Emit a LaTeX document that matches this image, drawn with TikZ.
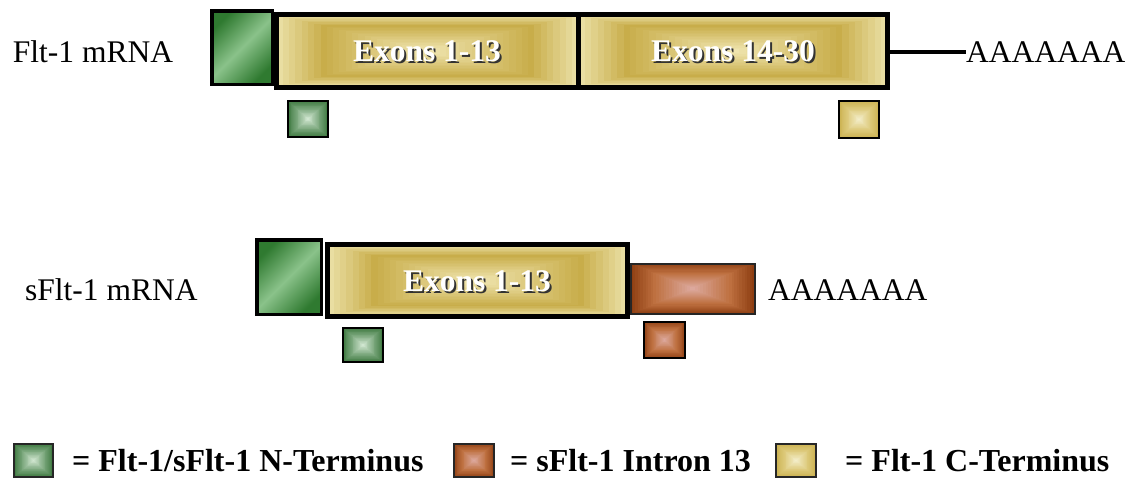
\documentclass[tikz,border=0pt]{standalone}
\usepackage{fontspec}
\setmainfont{Liberation Serif}
\definecolor{goldO}{HTML}{E9DEA2}
\definecolor{goldM}{HTML}{C8AD4A}
\definecolor{goldI}{HTML}{EFE4AE}
\definecolor{gsqO}{HTML}{C9AF4C}
\definecolor{gsqM}{HTML}{DCC878}
\definecolor{gsqI}{HTML}{F3EDC8}
\definecolor{grnO}{HTML}{38743A}
\definecolor{grnM}{HTML}{75A377}
\definecolor{grnI}{HTML}{D0E6D0}
\definecolor{grnDark}{HTML}{2F7A30}
\definecolor{grnLight}{HTML}{8AC28A}
\definecolor{brnO}{HTML}{8E3E12}
\definecolor{brnM}{HTML}{BE7040}
\definecolor{brnI}{HTML}{DCA89C}
\newcommand\ringfill[8]{%
  \foreach \i in {0,...,23}{%
    \pgfmathsetmacro\dx{\i/24*(#3-#1)/2}%
    \pgfmathsetmacro\dy{\i/24*(#4-#2)/2}%
    \ifnum\i<#8\relax
      \pgfmathtruncatemacro\p{100*\i/#8}%
      \colorlet{ringc}{#6!\p!#5}%
    \else
      \pgfmathtruncatemacro\p{100*(\i-#8)/(23-#8)}%
      \colorlet{ringc}{#7!\p!#6}%
    \fi
    \fill[ringc] ({#1+\dx},{#2+\dy}) rectangle ({#3-\dx},{#4-\dy});
  }}
\begin{document}
\begin{tikzpicture}[x=1pt,y=-1pt,
  lbl/.style={font=\fontsize{31.5}{36}\selectfont, inner sep=0pt, text=black, anchor=base west},
  exonlbl/.style={font=\bfseries\fontsize{31.5}{36}\selectfont, inner sep=0pt, text=white, anchor=base},
  exonshadow/.style={font=\bfseries\fontsize{31.5}{36}\selectfont, inner sep=0pt, text=black!80, anchor=base},
  legtxt/.style={font=\bfseries\fontsize{32}{36}\selectfont, inner sep=0pt, anchor=base west},
  exonborder/.style={draw=black, line width=4.5pt},
  bigsqborder/.style={draw=black, line width=3.5pt},
  smallborder/.style={draw=black, line width=2pt},
  thinborder/.style={draw=black!85, line width=1.8pt},
  tail/.style={draw=black, line width=4pt},
  greensq/.style={top color=grnDark, bottom color=grnDark, middle color=grnLight, shading angle=45}
]
\useasboundingbox (0,0) rectangle (1133,479);

% ---------------- Flt-1 mRNA ----------------
\node[lbl] (fltlbl) at (12.7,62.7) {Flt-1 mRNA};
\shade[greensq] (211.75,10.75) rectangle (272.25,84.25);
\draw[bigsqborder] (211.75,10.75) rectangle (272.25,84.25);
\ringfill{276.5}{14.5}{578.5}{87.5}{goldO}{goldM}{goldI}{7}
\ringfill{578.5}{14.5}{887.5}{87.5}{goldO}{goldM}{goldI}{7}
\draw[exonborder] (276.5,14.5) rectangle (887.5,87.5);
\draw[exonborder] (578.5,14.5) -- (578.5,87.5);
\node[exonshadow] (e1s) at (429,63.7) {Exons 1-13};
\node[exonlbl] (e1) at (427,61.7) {Exons 1-13};
\node[exonshadow] (e2s) at (735,63.7) {Exons 14-30};
\node[exonlbl] (e2) at (733,61.7) {Exons 14-30};
\coordinate (tailstart) at (889.5,52);
\node[lbl] (polyA1) at (966,62.7) {AAAAAAA};
\draw[tail] (tailstart) -- (polyA1.west |- tailstart);
% small domain markers
\ringfill{287}{100}{329}{138}{grnO}{grnM}{grnI}{10}
\draw[smallborder] (288,101) rectangle (328,137);
\ringfill{838}{100}{880}{139}{gsqO}{gsqM}{gsqI}{10}
\draw[smallborder] (839,101) rectangle (879,138);

% ---------------- sFlt-1 mRNA ----------------
\node[lbl] (sfltlbl) at (25,300) {sFlt-1 mRNA};
\shade[greensq] (256.75,239.75) rectangle (321.25,314.25);
\draw[bigsqborder] (256.75,239.75) rectangle (321.25,314.25);
\ringfill{327.5}{244.5}{627.5}{316.5}{goldO}{goldM}{goldI}{7}
\draw[exonborder] (327.5,244.5) rectangle (627.5,316.5);
\node[exonshadow] (e3s) at (479,293) {Exons 1-13};
\node[exonlbl] (e3) at (477,291) {Exons 1-13};
\ringfill{630}{263}{755}{314}{brnO}{brnM}{brnI}{9}
\draw[thinborder] (631,264) rectangle (755,314);
\node[lbl] (polyA2) at (768,300) {AAAAAAA};
\ringfill{342}{327}{384}{363}{grnO}{grnM}{grnI}{10}
\draw[smallborder] (343,328) rectangle (383,362);
\ringfill{643}{321}{686}{359}{brnO}{brnM}{brnI}{10}
\draw[smallborder] (644,322) rectangle (685,358);

% ---------------- Legend ----------------
\ringfill{13}{443}{54}{478}{grnO}{grnM}{grnI}{10}
\draw[thinborder] (13.9,443.9) rectangle (53.1,477.1);
\node[legtxt] (leg1) at (72,471.7) {= Flt-1/sFlt-1 N-Terminus};
\ringfill{453}{443}{495}{478}{brnO}{brnM}{brnI}{10}
\draw[thinborder] (453.9,443.9) rectangle (494.1,477.1);
\node[legtxt] (leg2) at (510,471.7) {= sFlt-1 Intron 13};
\ringfill{775}{443}{817}{478}{gsqO}{gsqM}{gsqI}{10}
\draw[thinborder] (775.9,443.9) rectangle (816.1,477.1);
\node[legtxt] (leg3) at (845,471.7) {= Flt-1 C-Terminus};
\end{tikzpicture}
\end{document}
